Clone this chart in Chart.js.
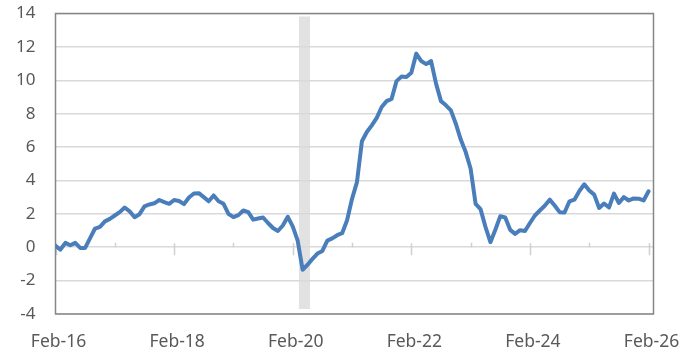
<!DOCTYPE html>
<html>
<head>
<meta charset="utf-8">
<script src="https://cdn.jsdelivr.net/npm/chart.js@4/dist/chart.umd.min.js"></script>
<style>
html,body{margin:0;padding:0;background:#fff;}
#wrap{width:697px;height:355px;position:relative;}
</style>
</head>
<body>
<div id="wrap"><canvas id="c" width="697" height="355"></canvas></div>
<script>
// Monthly series, Feb-16 (index 0) through Feb-26 (index 120)
const seriesValues = [
  0.08,-0.14,0.26,0.12,0.26,-0.04,-0.04,0.55,1.12,1.22,
  1.55,1.7,1.9,2.1,2.38,2.15,1.8,1.98,2.45,2.56,
  2.63,2.83,2.7,2.6,2.83,2.77,2.58,2.98,3.22,3.24,
  3.0,2.75,3.1,2.75,2.6,2.0,1.8,1.92,2.2,2.1,
  1.65,1.72,1.78,1.45,1.15,0.97,1.3,1.82,1.25,0.4,
  -1.35,-1.05,-0.7,-0.38,-0.22,0.4,0.53,0.72,0.84,1.62,
  2.9,3.9,6.35,6.9,7.3,7.75,8.4,8.75,8.88,9.95,
  10.22,10.2,10.45,11.6,11.15,10.97,11.15,9.8,8.75,8.5,
  8.2,7.4,6.45,5.7,4.7,2.6,2.28,1.22,0.3,1.05,
  1.86,1.78,1.04,0.8,1.02,0.97,1.45,1.9,2.2,2.48,
  2.85,2.5,2.1,2.08,2.75,2.85,3.37,3.77,3.4,3.15,
  2.35,2.62,2.38,3.21,2.65,3.0,2.8,2.92,2.91,2.8,
  3.35
];
// Tick labels (month index -> label)
const tickMonths = [0, 24, 48, 72, 96, 120];
const tickLabels = ['Feb-16', 'Feb-18', 'Feb-20', 'Feb-22', 'Feb-24', 'Feb-26'];
const minorTickMonths = [12, 36, 60, 84, 108];
// Shaded recession period in month index units
const recessionPeriod = [49.25, 51.5];
const yTicks = [-4, -2, 0, 2, 4, 6, 8, 10, 12, 14];

const points = seriesValues.map((v, i) => ({x: i, y: v}));

const framePlugin = {
  id: 'frame',
  beforeDraw(chart) {
    const {ctx, chartArea: a, scales: {x}} = chart;
    const x0 = x.getPixelForValue(recessionPeriod[0]);
    const x1 = x.getPixelForValue(recessionPeriod[1]);
    ctx.save();
    ctx.fillStyle = '#e2e2e2';
    ctx.fillRect(x0, a.top + 3, x1 - x0, a.bottom - a.top - 8);
    ctx.restore();
  },
  beforeDatasetsDraw(chart) {
    const {ctx, chartArea: a, scales: {x, y}} = chart;
    const y0 = y.getPixelForValue(0);
    ctx.save();
    ctx.strokeStyle = '#d0d0d0';
    ctx.lineWidth = 1.5;
    ctx.beginPath();
    tickMonths.forEach(m => {
      const px = Math.round(x.getPixelForValue(m)) + 0.5;
      ctx.moveTo(px, y0 - 4); ctx.lineTo(px, y0 + 8);
    });
    minorTickMonths.forEach(m => {
      const px = Math.round(x.getPixelForValue(m)) + 0.5;
      ctx.moveTo(px, y0 - 4.5); ctx.lineTo(px, y0);
    });
    ctx.stroke();
    ctx.strokeStyle = '#868686';
    ctx.lineWidth = 1.5;
    ctx.strokeRect(a.left, a.top, a.right - a.left, a.bottom - a.top);
    ctx.restore();
  }
};

new Chart(document.getElementById('c'), {
  type: 'line',
  data: {
    datasets: [{
      data: points,
      borderColor: '#4A7EBB',
      borderWidth: 4,
      pointRadius: 0,
      tension: 0,
      borderJoinStyle: 'round',
      borderCapStyle: 'round',
      fill: false
    }]
  },
  options: {
    responsive: false,
    animation: false,
    events: [],
    layout: {padding: {top: 13.5, right: 43.5, left: 0, bottom: 0}},
    plugins: {legend: {display: false}, tooltip: {enabled: false}},
    scales: {
      x: {
        type: 'linear',
        min: 0,
        max: 121,
        afterBuildTicks(s) { s.ticks = tickMonths.map(v => ({value: v})); },
        afterFit(s) { s.height = 41; s.paddingLeft = 0; s.paddingRight = 0; },
        ticks: {
          autoSkip: false,
          maxRotation: 0,
          padding: 18,
          labelOffset: 3,
          color: '#595959',
          font: {family: 'Noto Sans', size: 17.5},
          callback(v) { const k = tickMonths.indexOf(v); return k >= 0 ? tickLabels[k] : ''; }
        },
        grid: {display: false, drawTicks: false},
        border: {display: false}
      },
      y: {
        min: -4,
        max: 14,
        afterBuildTicks(s) { s.ticks = yTicks.map(v => ({value: v})); },
        afterFit(s) { s.width = 55.5; s.paddingTop = 0; s.paddingBottom = 0; },
        ticks: {
          padding: 20,
          color: '#595959',
          font: {family: 'Noto Sans', size: 17}
        },
        grid: {color: '#d9d9d9', lineWidth: 1.5, drawTicks: false},
        border: {display: false}
      }
    }
  },
  plugins: [framePlugin]
});
</script>
</body>
</html>
